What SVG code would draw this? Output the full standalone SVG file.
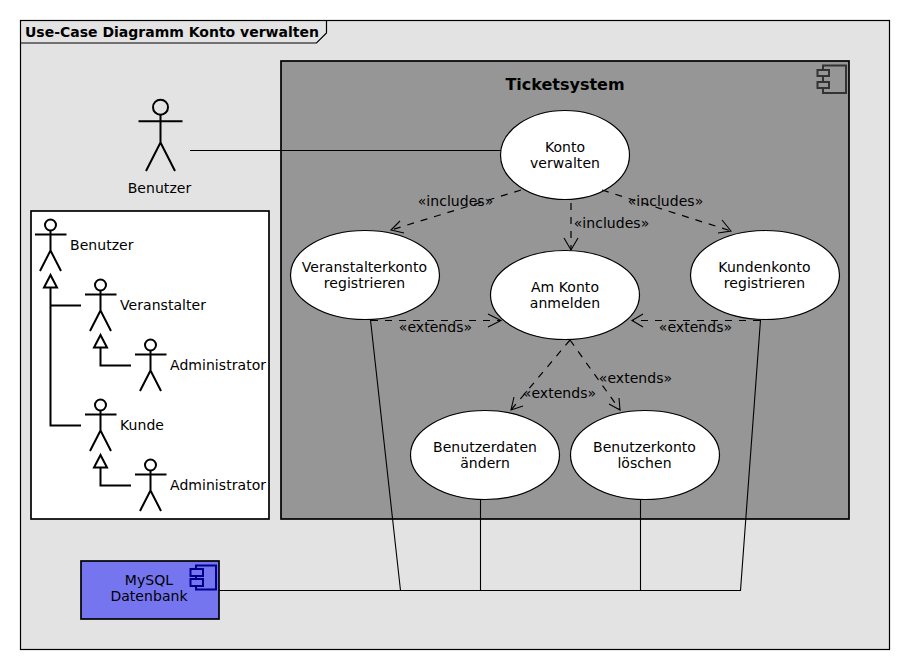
<svg xmlns="http://www.w3.org/2000/svg" width="910" height="670" viewBox="0 0 910 670">
<style>
text{font-family:"DejaVu Sans",sans-serif;font-size:14px;fill:#000;text-anchor:middle;letter-spacing:.05px}
.l{text-anchor:start}
.b{font-weight:bold;letter-spacing:0}
.uc{fill:#fff;stroke:#000;stroke-width:1.2}
.a{fill:none;stroke:#000;stroke-width:2}
.c{fill:none;stroke:#000;stroke-width:1.1}
.d{fill:none;stroke:#000;stroke-width:1.2;stroke-dasharray:7 7}
.g{fill:none;stroke:#000;stroke-width:2}
.h{fill:#fff;stroke:#000;stroke-width:2}
.i{fill:none;stroke-width:2}
</style>
<defs>
<g id="sa" class="a"><circle cx="50.500" cy="225" r="5.500"/><path d="M35 234.500H66.500M50.500 230.500V250.500M40 271L50.500 250.500L61 271"/></g>
</defs>
<rect id="frame" x="20.500" y="20.500" width="869" height="629" fill="#e3e3e3" stroke="#000" stroke-width="1.200"/>
<g id="frame-title"><path d="M20.500 43H316.500L326.500 33V20.500" fill="none" stroke="#000" stroke-width="1.200"/><text class="l b" x="25" y="37">Use-Case Diagramm Konto verwalten</text></g>
<g id="ticketsystem"><rect x="281" y="61" width="568" height="458" fill="#969696" stroke="#000" stroke-width="1.700"/><text class="b" x="565" y="90" style="font-size:16px">Ticketsystem</text><path class="i" stroke="#333" d="M823 70V65.500H846V93H823V88M823 76V82M817.500 70H829V76H817.500ZM817.500 82H829V88H817.500Z"/></g>
<g id="legend"><rect x="31" y="211" width="238" height="308" fill="#fff" stroke="#000" stroke-width="1.700"/></g>
<g id="actor-benutzer" class="a"><circle cx="160.500" cy="107.200" r="7.500"/><path d="M138.500 121.300H182.500M160.500 114.700V142.500M146 171L160.500 142.500L175 171"/></g>
<text x="159.500" y="193">Benutzer</text>
<g id="legend-benutzer"><use href="#sa"/><text class="l" x="70" y="250">Benutzer</text></g>
<g id="legend-veranstalter"><use href="#sa" x="50" y="60"/><text class="l" x="120" y="310">Veranstalter</text></g>
<g id="legend-admin1"><use href="#sa" x="100" y="120"/><text class="l" x="170" y="370">Administrator</text></g>
<g id="legend-kunde"><use href="#sa" x="50" y="180"/><text class="l" x="120" y="430">Kunde</text></g>
<g id="legend-admin2"><use href="#sa" x="100" y="240"/><text class="l" x="170" y="490">Administrator</text></g>
<g id="uc-verwalten"><ellipse class="uc" cx="565" cy="155" rx="64.500" ry="44.500"/><text x="565" y="152">Konto</text><text x="565" y="168">verwalten</text></g>
<g id="uc-veranstalter"><ellipse class="uc" cx="365" cy="275" rx="74.500" ry="44.500"/><text x="364.500" y="272">Veranstalterkonto</text><text x="364.500" y="288">registrieren</text></g>
<g id="uc-anmelden"><ellipse class="uc" cx="565" cy="295" rx="74.500" ry="44.500"/><text x="565" y="292">Am Konto</text><text x="565" y="308">anmelden</text></g>
<g id="uc-kunden"><ellipse class="uc" cx="765" cy="275" rx="74.500" ry="44.500"/><text x="764.500" y="272">Kundenkonto</text><text x="764.500" y="288">registrieren</text></g>
<g id="uc-aendern"><ellipse class="uc" cx="485" cy="455" rx="74.500" ry="44.500"/><text x="485" y="452">Benutzerdaten</text><text x="485" y="468">ändern</text></g>
<g id="uc-loeschen"><ellipse class="uc" cx="645" cy="455" rx="74.500" ry="44.500"/><text x="644.500" y="452">Benutzerkonto</text><text x="644.500" y="468">löschen</text></g>
<g id="db"><rect x="81" y="561" width="138" height="58" fill="#7575f0" stroke="#000" stroke-width="1.700"/><text x="149" y="585">MySQL</text><text x="149" y="601">Datenbank</text><path class="i" stroke="#00008b" d="M196 569V565.500H216V589.500H196V586M196 576V579M190.500 569H203V576H190.500ZM190.500 579H203V586H190.500Z"/></g>
<g id="connectors">
<path class="c" d="M190 150.500H501"/>
<path class="d" d="M521 190L391 230"/><path class="c" d="M400 221L391 230L404 233"/>
<path class="d" d="M571 203V250"/><path class="c" d="M564 238L571 250L578 238"/>
<path class="d" d="M602 190L731 231"/><path class="c" d="M722 220L731 231L718 233"/>
<path class="d" d="M371 320.500H501"/><path class="c" d="M488 314L501 320.500L488 327"/>
<path class="d" d="M760 320.500H632"/><path class="c" d="M643 314L632 320.500L643 327"/>
<path class="d" d="M570 340L511 410"/><path class="c" d="M514 397L511 410L523 406"/>
<path class="d" d="M570 340L620 410"/><path class="c" d="M609 404L620 410L619 398"/>
<path class="c" d="M370.500 320L400.500 590.500M480.500 499V590.500M640.500 499V590.500M760.500 320L740.500 590.500H219"/>
<path class="g" d="M50.500 287V425.500H81M50.500 305.500H81M100.500 347V365.500H131M100.500 467V485.500H131"/>
<path class="h" d="M50.500 275L44 287.500H57ZM100.500 335L94 347.500H107ZM100.500 455L94 467.500H107Z"/>
</g>
<g id="labels">
<text x="455.500" y="206">«includes»</text><text x="665.500" y="206">«includes»</text><text x="611.500" y="228">«includes»</text>
<text x="435.500" y="332">«extends»</text><text x="695.500" y="332">«extends»</text><text x="635.500" y="383">«extends»</text><text x="559.500" y="398">«extends»</text>
</g>
</svg>
